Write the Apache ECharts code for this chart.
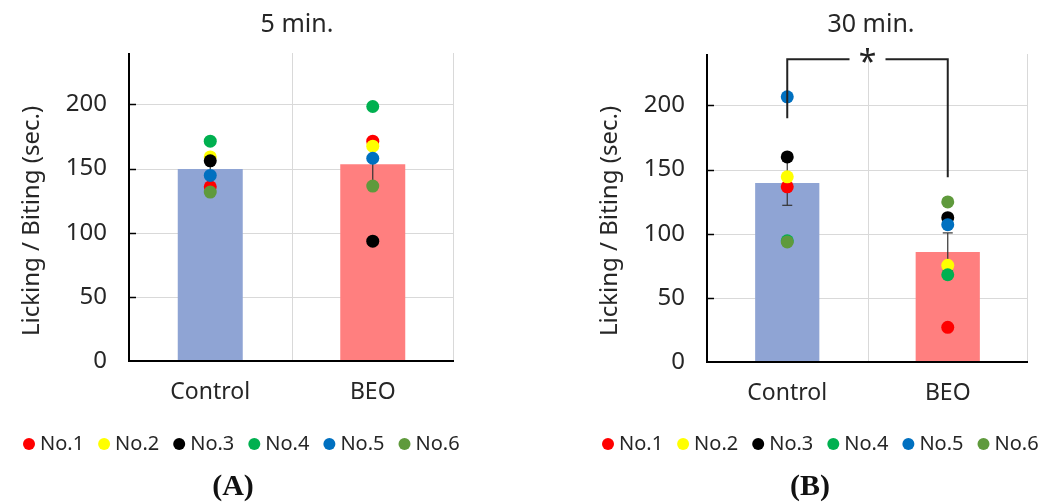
<!DOCTYPE html>
<html>
<head>
<meta charset="utf-8">
<script src="https://cdn.jsdelivr.net/npm/echarts@6/dist/echarts.min.js"></script>
<style>
  html, body { margin: 0; padding: 0; background: #fff; }
  #main { width: 1041px; height: 502px; }
</style>
</head>
<body>
<div id="main"></div>
<script>
// groups and subjects
let categories = ['Control', 'BEO'];
let subjects = ['No.1', 'No.2', 'No.3', 'No.4', 'No.5', 'No.6'];
let subjectColors = ['#FF0000', '#FFFF00', '#000000', '#00B050', '#0070C0', '#5F9A3C'];
let barColors = ['#8FA4D4', '#FF7F7F'];
let yTicks = [0, 50, 100, 150, 200];

// (A) 5 min.
let mean5 = [149.7, 153.4];
let se5 = [6.2, 14.7];
let points5 = [
    [135.8, 171.3], // No.1
    [159.0, 167.4], // No.2
    [156.0, 93.4],  // No.3
    [171.3, 198.3], // No.4
    [144.6, 158.0], // No.5
    [131.6, 136.3]  // No.6
];

// (B) 30 min.
let mean30 = [139.4, 85.8];
let se30 = [17.3, 14.8];
let points30 = [
    [136.5, 27.0],
    [144.3, 75.3],
    [159.8, 112.5],
    [94.5, 68.0],
    [206.6, 107.0],
    [93.6, 124.7]
];

// significance bracket on (B): top level, left drop, right drop
let sigTop = 236;
let sigDrops = [190, 144];

let font = 'Noto Sans';
let textColor = '#262626';
let gridGray = '#D9D9D9';

function xAxisFor(gridIndex) {
    return {
        type: 'category',
        gridIndex: gridIndex,
        data: categories,
        axisLine: { show: false },
        axisTick: { show: false },
        axisLabel: { fontSize: 23, fontFamily: font, color: textColor, margin: 20 },
        splitLine: { show: false }
    };
}

function yAxisFor(gridIndex) {
    return {
        type: 'value',
        gridIndex: gridIndex,
        min: 0,
        max: 240,
        interval: 50,
        axisLine: { show: false },
        axisTick: { show: false },
        axisLabel: { fontSize: 24, fontFamily: font, color: textColor, margin: 22, customValues: yTicks },
        splitLine: { show: false }
    };
}

// light grid lines, kept under the bars
function gridLineSeries(idx) {
    return {
        type: 'custom',
        xAxisIndex: idx,
        yAxisIndex: idx,
        silent: true,
        z: 1,
        data: [[0, 0]],
        renderItem: function (params, api) {
            let cs = params.coordSys;
            let style = { stroke: gridGray, lineWidth: 1 };
            let lines = [];
            yTicks.slice(1).forEach(function (v) {
                let y = Math.round(api.coord([0, v])[1]) + 0.5;
                lines.push({ type: 'line', shape: { x1: cs.x + 1, y1: y, x2: cs.x + cs.width, y2: y }, style: style });
            });
            let mid = Math.round((api.coord([0, 0])[0] + api.coord([1, 0])[0]) / 2) + 0.5;
            let right = Math.round(cs.x + cs.width) - 0.5;
            [mid, right].forEach(function (x) {
                lines.push({ type: 'line', shape: { x1: x, y1: cs.y, x2: x, y2: cs.y + cs.height - 1 }, style: style });
            });
            return { type: 'group', children: lines };
        }
    };
}

// black axis lines with short inward ticks, drawn above the bars
function axisFrameSeries(idx) {
    return {
        type: 'custom',
        xAxisIndex: idx,
        yAxisIndex: idx,
        silent: true,
        z: 5,
        data: [[0, 0]],
        renderItem: function (params, api) {
            let cs = params.coordSys;
            let style = { stroke: '#000', lineWidth: 2, fill: null };
            let x0 = Math.round(cs.x);
            let y0 = Math.round(api.coord([0, 0])[1]);
            let children = [
                { type: 'polyline', shape: { points: [[x0, cs.y], [x0, y0], [cs.x + cs.width, y0]] }, style: style }
            ];
            yTicks.slice(1).forEach(function (v) {
                let y = Math.round(api.coord([0, v])[1]) + 0.5;
                children.push({ type: 'line', shape: { x1: x0, y1: y, x2: x0 + 7, y2: y }, style: { stroke: '#000', lineWidth: 1.5 } });
            });
            return { type: 'group', children: children };
        }
    };
}

function barSeries(idx, means) {
    return {
        type: 'bar',
        xAxisIndex: idx,
        yAxisIndex: idx,
        barWidth: '40%',
        z: 2,
        data: means.map(function (v, i) {
            return { value: v, itemStyle: { color: barColors[i] } };
        })
    };
}

function errorSeries(idx, means, ses) {
    return {
        type: 'custom',
        xAxisIndex: idx,
        yAxisIndex: idx,
        z: 3,
        encode: { x: 0, y: [1, 2] },
        data: means.map(function (m, i) {
            return [i, m - ses[i], m + ses[i]];
        }),
        renderItem: function (params, api) {
            let lo = api.coord([api.value(0), api.value(1)]);
            let hi = api.coord([api.value(0), api.value(2)]);
            let w = 5;
            let style = { stroke: '#333', lineWidth: 1.2 };
            return {
                type: 'group',
                children: [
                    { type: 'line', shape: { x1: lo[0], y1: lo[1], x2: hi[0], y2: hi[1] }, style: style },
                    { type: 'line', shape: { x1: lo[0] - w, y1: lo[1], x2: lo[0] + w, y2: lo[1] }, style: style },
                    { type: 'line', shape: { x1: hi[0] - w, y1: hi[1], x2: hi[0] + w, y2: hi[1] }, style: style }
                ]
            };
        }
    };
}

function pointSeries(idx, points) {
    return subjects.map(function (name, s) {
        return {
            name: name,
            type: 'scatter',
            xAxisIndex: idx,
            yAxisIndex: idx,
            symbolSize: 13,
            z: 4,
            itemStyle: { color: subjectColors[s], opacity: 1 },
            data: points[s]
        };
    });
}

let bracketSeries = {
    type: 'custom',
    xAxisIndex: 1,
    yAxisIndex: 1,
    z: 6,
    data: [[0, sigTop]],
    renderItem: function (params, api) {
        let l = api.coord([0, sigTop]);
        let r = api.coord([1, sigTop]);
        let lb = api.coord([0, sigDrops[0]]);
        let rb = api.coord([1, sigDrops[1]]);
        let mid = (l[0] + r[0]) / 2;
        let gap = 18;
        let style = { stroke: '#222', lineWidth: 2, fill: null };
        return {
            type: 'group',
            children: [
                { type: 'polyline', shape: { points: [[lb[0], lb[1]], [l[0], l[1]], [mid - gap, l[1]]] }, style: style },
                { type: 'polyline', shape: { points: [[mid + gap, r[1]], [r[0], r[1]], [rb[0], rb[1]]] }, style: style },
                {
                    type: 'text',
                    x: mid,
                    y: l[1] + 5,
                    style: {
                        text: '*', fill: '#222', fontSize: 32, fontFamily: font,
                        align: 'center', verticalAlign: 'middle'
                    }
                }
            ]
        };
    }
};

function legendFor(left) {
    return {
        data: subjects,
        left: left,
        top: 429,
        width: 440,
        icon: 'circle',
        itemWidth: 12,
        itemHeight: 12,
        itemGap: 14,
        textStyle: { fontSize: 20, fontFamily: font, color: textColor }
    };
}

let myChart = echarts.init(document.getElementById('main'));
let option = {
    animation: false,
    backgroundColor: '#fff',
    title: [
        { text: '5 min.', left: 292, top: 7, textAlign: 'center',
          textStyle: { fontSize: 25, fontWeight: 'normal', fontFamily: font, color: textColor } },
        { text: '30 min.', left: 866, top: 7, textAlign: 'center',
          textStyle: { fontSize: 25, fontWeight: 'normal', fontFamily: font, color: textColor } }
    ],
    legend: [legendFor(18), legendFor(597)],
    grid: [
        { left: 129, top: 53, width: 325, height: 308 },
        { left: 707, top: 54, width: 321, height: 308 }
    ],
    xAxis: [xAxisFor(0), xAxisFor(1)],
    yAxis: [yAxisFor(0), yAxisFor(1)],
    graphic: [
        { type: 'text', x: 32, y: 221, rotation: Math.PI / 2,
          style: { text: 'Licking / Biting (sec.)', fontSize: 24, fontFamily: font, fill: textColor, align: 'center', verticalAlign: 'middle' } },
        { type: 'text', x: 610, y: 221, rotation: Math.PI / 2,
          style: { text: 'Licking / Biting (sec.)', fontSize: 24, fontFamily: font, fill: textColor, align: 'center', verticalAlign: 'middle' } },
        { type: 'text', x: 233, y: 487,
          style: { text: '(A)', fontSize: 30, fontWeight: 'bold', fontFamily: 'Liberation Serif', fill: '#111', align: 'center', verticalAlign: 'middle' } },
        { type: 'text', x: 810, y: 487,
          style: { text: '(B)', fontSize: 30, fontWeight: 'bold', fontFamily: 'Liberation Serif', fill: '#111', align: 'center', verticalAlign: 'middle' } }
    ],
    series: [
        gridLineSeries(0),
        gridLineSeries(1),
        barSeries(0, mean5),
        errorSeries(0, mean5, se5),
        barSeries(1, mean30),
        errorSeries(1, mean30, se30),
        axisFrameSeries(0),
        axisFrameSeries(1),
        bracketSeries
    ].concat(pointSeries(0, points5), pointSeries(1, points30))
};
myChart.setOption(option);
</script>
</body>
</html>
